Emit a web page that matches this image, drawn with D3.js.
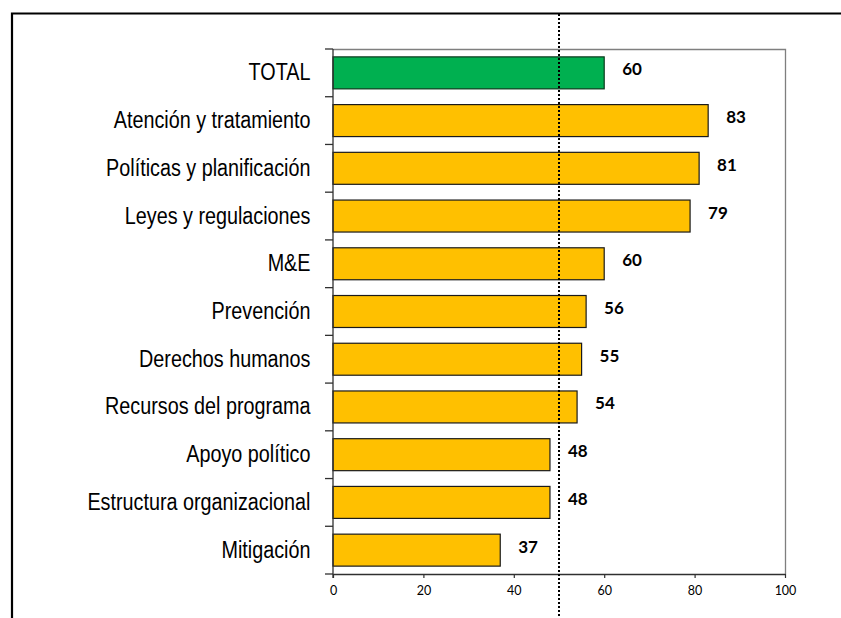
<!DOCTYPE html>
<html>
<head>
<meta charset="utf-8">
<script src="https://cdn.jsdelivr.net/npm/d3@7"></script>
<style>
  html, body { margin: 0; padding: 0; background: #fff; }
  svg { display: block; }
</style>
</head>
<body>
<svg id="chart" width="841" height="618"></svg>
<script>
// Categories, top to bottom
const categories = [
  "TOTAL",
  "Atención y tratamiento",
  "Políticas y planificación",
  "Leyes y regulaciones",
  "M&E",
  "Prevención",
  "Derechos humanos",
  "Recursos del programa",
  "Apoyo político",
  "Estructura organizacional",
  "Mitigación"
];
// Score for each category
const scores = [60, 83, 81, 79, 60, 56, 55, 54, 48, 48, 37];
// X axis tick values
const xTicks = [0, 20, 40, 60, 80, 100];
// Reference value marked by the dotted line
const referenceValue = 50;

const svg = d3.select("#chart");
const W = 841, H = 618;

const plot = { left: 333, right: 785, top: 49, bottom: 574 };

const x = d3.scaleLinear().domain([0, 100]).range([plot.left, plot.right]);
const y = d3.scaleBand()
  .domain(categories)
  .range([plot.top, plot.bottom])
  .paddingInner(0.33)
  .paddingOuter(0.165);

// Outer frame (top and left edges)
svg.append("path")
  .attr("d", `M12,${H} L12,13.5 L${W},13.5`)
  .attr("fill", "none")
  .attr("stroke", "#000")
  .attr("stroke-width", 2.2);

// Plot area frame (top and right edges)
svg.append("path")
  .attr("d", `M${plot.left},${plot.top + 0.5} L${plot.right + 0.5},${plot.top + 0.5} L${plot.right + 0.5},${plot.bottom}`)
  .attr("fill", "none")
  .attr("stroke", "#7f7f7f")
  .attr("stroke-width", 1.3);

// Bars
svg.append("g").selectAll("rect")
  .data(categories)
  .join("rect")
  .attr("x", x(0))
  .attr("y", d => y(d))
  .attr("width", (d, i) => x(scores[i]) - x(0))
  .attr("height", y.bandwidth())
  .attr("fill", (d, i) => i === 0 ? "#00b050" : "#ffc000")
  .attr("stroke", (d, i) => i === 0 ? "#0a3a1c" : "#1a1a1a")
  .attr("stroke-width", 1.2);

// Value labels
svg.append("g").selectAll("text")
  .data(categories)
  .join("text")
  .attr("x", (d, i) => x(scores[i]) + 18)
  .attr("y", d => y(d) + y.bandwidth() / 2 - 4)
  .attr("dominant-baseline", "central")
  .attr("font-family", "Lato, 'DejaVu Sans', sans-serif")
  .attr("font-weight", "bold")
  .attr("font-size", 17)
  .attr("fill", "#000")
  .text((d, i) => scores[i]);

// Category labels (condensed sans)
svg.append("g").selectAll("g")
  .data(categories)
  .join("g")
  .attr("transform", d => `translate(310.5, ${y(d) + y.bandwidth() / 2}) scale(0.86, 1)`)
  .append("text")
  .attr("text-anchor", "end")
  .attr("dominant-baseline", "central")
  .attr("font-family", "'Liberation Sans', Arial, sans-serif")
  .attr("font-size", 23)
  .attr("fill", "#000")
  .text(d => d);

// Y axis line and boundary ticks
const step = y.step();
const y0 = y.range()[0];
const boundaries = d3.range(categories.length + 1).map(i => y0 + i * step);
const yAxis = svg.append("g").attr("stroke", "#303030").attr("stroke-width", 1.3);
yAxis.append("line")
  .attr("x1", plot.left).attr("x2", plot.left)
  .attr("y1", plot.top).attr("y2", plot.bottom + 4);
yAxis.selectAll("line.tick")
  .data(boundaries)
  .join("line")
  .attr("class", "tick")
  .attr("x1", plot.left - 8).attr("x2", plot.left)
  .attr("y1", d => d).attr("y2", d => d);

// X axis
const xAxis = svg.append("g")
  .attr("transform", `translate(0, ${plot.bottom})`)
  .call(d3.axisBottom(x).tickValues(xTicks).tickSize(4).tickPadding(8).tickSizeOuter(0));
xAxis.select(".domain").attr("stroke", "#303030").attr("stroke-width", 1.3);
xAxis.selectAll(".tick line").attr("stroke", "#303030").attr("stroke-width", 1.2);
xAxis.selectAll(".tick text")
  .attr("font-family", "Lato, 'DejaVu Sans', sans-serif")
  .attr("font-size", 12.5)
  .attr("fill", "#000");

// Dotted reference line
svg.append("line")
  .attr("x1", x(referenceValue)).attr("x2", x(referenceValue))
  .attr("y1", 14).attr("y2", H)
  .attr("stroke", "#000")
  .attr("stroke-width", 2)
  .attr("stroke-dasharray", "2,2");
</script>
</body>
</html>
